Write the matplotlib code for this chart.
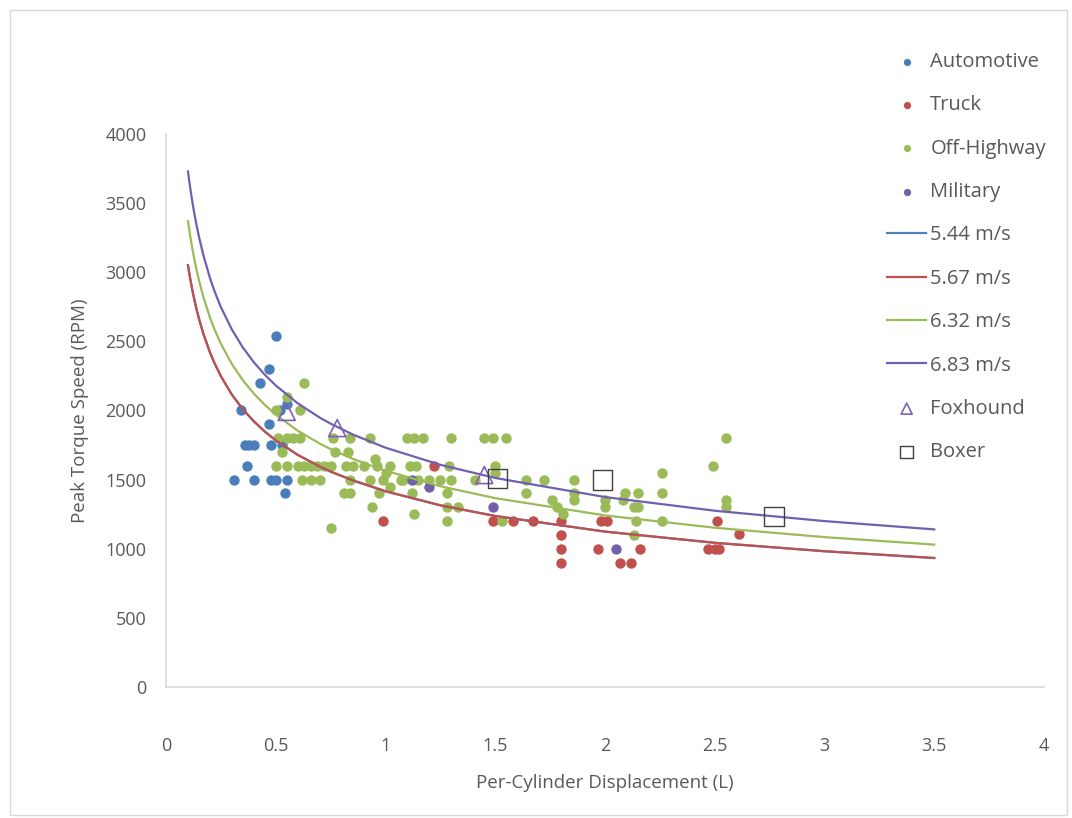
import matplotlib.pyplot as plt
from matplotlib.patches import Rectangle

plt.rcParams['font.family'] = ['Open Sans', 'DejaVu Sans']

# scatter data (per-cylinder displacement L, peak torque speed RPM)
auto_x = [0.50, 0.47, 0.43, 0.34, 0.47, 0.52, 0.55, 0.36, 0.38, 0.40, 0.48, 0.53,
          0.37, 0.31, 0.40, 0.48, 0.50, 0.55, 0.54]
auto_y = [2540, 2300, 2200, 2000, 1900, 2000, 2050, 1750, 1750, 1750, 1750, 1750,
          1600, 1500, 1500, 1500, 1500, 1500, 1400]

truck_x = [0.99, 1.22, 1.49, 1.58, 1.67, 1.80, 1.80, 1.80, 1.80, 1.98, 2.01, 1.97,
           2.07, 2.12, 2.16, 2.51, 2.61, 2.47, 2.50, 2.52]
truck_y = [1200, 1600, 1200, 1200, 1200, 1200, 1100, 1000, 900, 1200, 1200, 1000,
           900, 900, 1000, 1200, 1110, 1000, 1000, 1000]

offhw_x = [0.51, 0.55, 0.58, 0.61, 0.76, 0.84, 0.93, 1.10, 1.13, 1.17, 1.30, 1.45, 1.49, 1.55, 2.55,
           0.63, 0.55, 0.50, 0.61,
           0.53, 0.77, 0.83, 0.95,
           0.50, 0.55, 0.60, 0.63, 0.66, 0.69, 0.72, 0.75, 0.82, 0.85, 0.90, 0.96, 1.02, 1.11,
           1.14, 1.29, 1.50, 2.49,
           1.00, 1.50, 2.26,
           0.62, 0.66, 0.70, 0.84, 0.93, 0.99, 1.07, 1.08, 1.15, 1.20, 1.25, 1.30, 1.41, 1.64,
           1.72, 1.86,
           1.02,
           0.81, 0.84, 0.97, 1.12, 1.28, 1.64, 1.86, 2.09, 2.15, 2.26,
           1.76, 1.86, 2.00, 2.08, 2.55,
           0.94, 1.28, 1.33, 1.78, 2.00, 2.13, 2.15, 2.55,
           1.13, 1.81,
           1.28, 1.53, 2.14, 2.26,
           0.75, 2.13]
offhw_y = [1800] * 15 + [2200, 2100, 2000, 2000] + [1700, 1700, 1700, 1650] + \
          [1600] * 18 + [1550] * 3 + [1500] * 16 + [1450] + [1400] * 10 + \
          [1350] * 5 + [1300] * 8 + [1250] * 2 + [1200] * 4 + [1150, 1100]

mil_x = [1.12, 1.20, 1.49, 2.05]
mil_y = [1500, 1450, 1300, 1000]

fox_x = [0.55, 0.78, 1.45]
fox_y = [1990, 1873, 1533]

boxer_x = [1.51, 1.99, 2.77]
boxer_y = [1510, 1497, 1235]

# constant piston speed curves
curve_x = [0.1, 0.11, 0.12, 0.13, 0.14, 0.15, 0.17, 0.2, 0.22, 0.25, 0.3, 0.35, 0.4,
           0.45, 0.5, 0.6, 0.7, 0.75, 0.85, 1.0, 1.25, 1.5, 2.0, 2.5, 3.0, 3.5]
c544_y = [3051, 2956, 2871, 2795, 2727, 2665, 2556, 2421, 2346, 2248, 2115, 2009, 1922,
          1848, 1784, 1679, 1595, 1558, 1495, 1416, 1314, 1237, 1124, 1043, 982, 933]
c567_y = [3051, 2956, 2871, 2795, 2727, 2665, 2556, 2421, 2346, 2248, 2115, 2009, 1922,
          1848, 1784, 1679, 1595, 1558, 1495, 1416, 1314, 1237, 1124, 1043, 982, 933]
c632_y = [3370, 3265, 3171, 3087, 3012, 2944, 2823, 2674, 2591, 2483, 2336, 2219, 2123,
          2041, 1970, 1854, 1761, 1721, 1651, 1564, 1452, 1366, 1241, 1152, 1084, 1030]
c683_y = [3729, 3613, 3509, 3417, 3334, 3258, 3125, 2960, 2867, 2748, 2586, 2456, 2349,
          2259, 2181, 2052, 1949, 1905, 1827, 1731, 1607, 1512, 1374, 1275, 1200, 1140]

gray = '#595959'

fig = plt.figure(figsize=(10.72, 8.18), dpi=100)
ax = fig.add_axes([166 / 1072, 1 - 687 / 818, 878 / 1072, 553 / 818])

s = 42
ax.scatter(auto_x, auto_y, s=s, color='#4A7EBB', label='Automotive', zorder=2)
ax.scatter(truck_x, truck_y, s=s, color='#C0504D', label='Truck', zorder=2)
ax.scatter(offhw_x, offhw_y, s=s, color='#9BBB59', label='Off-Highway', zorder=2)
ax.scatter(mil_x, mil_y, s=s, color='#7460A8', label='Military', zorder=2)

ax.plot(curve_x, c544_y, color='#4F81BD', lw=1.6, label='5.44 m/s', zorder=3)
ax.plot(curve_x, c567_y, color='#C0504D', lw=1.6, label='5.67 m/s', zorder=3)
ax.plot(curve_x, c632_y, color='#9BBB59', lw=1.6, label='6.32 m/s', zorder=3)
ax.plot(curve_x, c683_y, color='#7060B0', lw=1.6, label='6.83 m/s', zorder=3)

ax.scatter(fox_x, fox_y, s=150, marker='^', facecolors='none', edgecolors='#8060B8',
           linewidths=1.2, label='Foxhound', zorder=4)
ax.scatter(boxer_x, boxer_y, s=190, marker='s', facecolors='none', edgecolors='#404040',
           linewidths=1.0, label='Boxer', zorder=4)

ax.set_xlim(0, 4)
ax.set_ylim(0, 4000)
ax.set_xticks([0, 0.5, 1, 1.5, 2, 2.5, 3, 3.5, 4])
ax.set_xticklabels(['0', '0.5', '1', '1.5', '2', '2.5', '3', '3.5', '4'])
ax.set_yticks(range(0, 4001, 500))
ax.tick_params(axis='both', length=0, labelsize=13, labelcolor=gray)
ax.tick_params(axis='x', pad=36)
ax.tick_params(axis='y', pad=14)

for side in ['top', 'right']:
    ax.spines[side].set_visible(False)
for side in ['left', 'bottom']:
    ax.spines[side].set_color('#D9D9D9')
    ax.spines[side].set_linewidth(1.2)

ax.set_xlabel('Per-Cylinder Displacement (L)', fontsize=13.5, color=gray, labelpad=14)
ax.set_ylabel('Peak Torque Speed (RPM)', fontsize=13.5, color=gray, labelpad=12)

handles, labels = ax.get_legend_handles_labels()
order = ['Automotive', 'Truck', 'Off-Highway', 'Military', '5.44 m/s', '5.67 m/s',
         '6.32 m/s', '6.83 m/s', 'Foxhound', 'Boxer']
hmap = dict(zip(labels, handles))
leg = fig.legend([hmap[k] for k in order], order, loc='upper left',
                 bbox_to_anchor=(887 / 1072, 1 - 52 / 818), frameon=False,
                 fontsize=14.5, labelcolor=gray, borderpad=0, borderaxespad=0,
                 handlelength=1.95, handletextpad=0.2, labelspacing=1.16,
                 markerscale=0.65)

fig.patches.append(Rectangle((10 / 1072, 3 / 818), 1057 / 1072, 805 / 818,
                             transform=fig.transFigure, fill=False,
                             edgecolor='#D9D9D9', lw=1.0))

fig.savefig('out.png', dpi=100)
